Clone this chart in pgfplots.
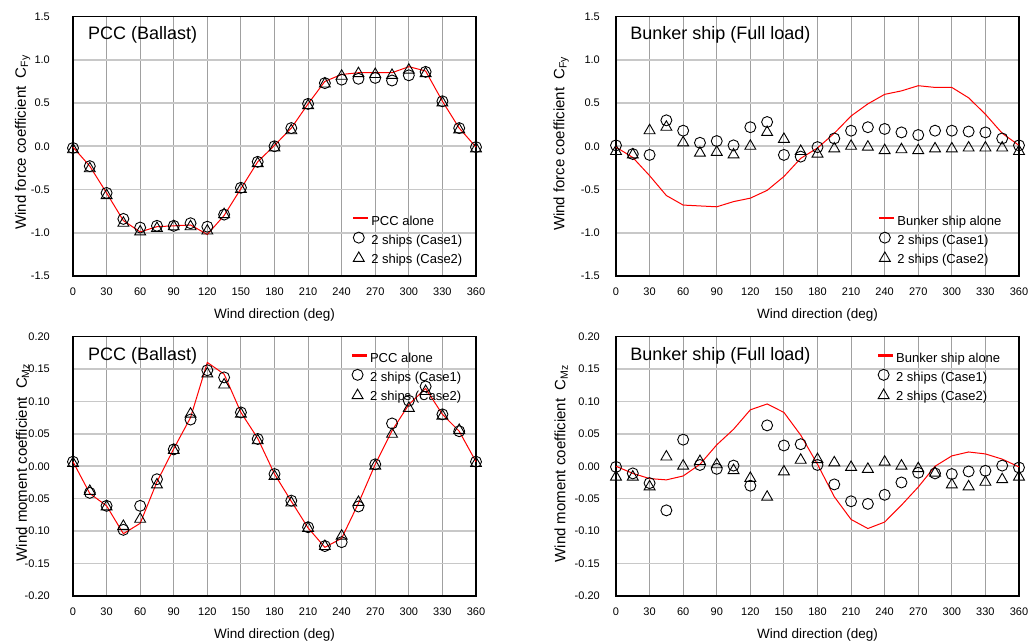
\documentclass[border=0pt]{standalone}
\usepackage{pgfplots}
\pgfplotsset{compat=1.18}
\usepackage{pgfplotstable}
\usepackage{fontspec}
\setmainfont{Liberation Sans}
\definecolor{gridV}{RGB}{160,160,160}
\definecolor{gridH}{RGB}{200,200,200}

\pgfplotstableread{
deg alone c1 c2
0 -0.01 -0.02 -0.02
15 -0.23 -0.23 -0.24
30 -0.54 -0.54 -0.55
45 -0.86 -0.84 -0.87
60 -0.99 -0.94 -0.97
75 -0.93 -0.92 -0.93
90 -0.92 -0.92 -0.91
105 -0.91 -0.89 -0.91
120 -1.02 -0.93 -0.96
135 -0.80 -0.79 -0.77
150 -0.49 -0.48 -0.48
165 -0.18 -0.18 -0.18
180 0.01 0.00 0.00
195 0.21 0.21 0.20
210 0.49 0.49 0.49
225 0.75 0.73 0.74
240 0.83 0.77 0.83
255 0.85 0.78 0.86
270 0.85 0.79 0.85
285 0.85 0.76 0.84
300 0.92 0.82 0.90
315 0.87 0.86 0.86
330 0.52 0.52 0.52
345 0.21 0.21 0.21
360 -0.01 -0.01 -0.01
}\tabA

\pgfplotstableread{
deg alone c1 c2
0 -0.01 0.01 -0.04
15 -0.13 -0.09 -0.08
30 -0.34 -0.10 0.20
45 -0.57 0.30 0.24
60 -0.68 0.18 0.06
75 -0.69 0.04 -0.06
90 -0.70 0.06 -0.05
105 -0.64 0.01 -0.08
120 -0.60 0.22 0.02
135 -0.51 0.28 0.18
150 -0.35 -0.10 0.10
165 -0.14 -0.12 -0.04
180 -0.02 -0.01 -0.07
195 0.15 0.09 -0.01
210 0.35 0.18 0.02
225 0.49 0.22 0.01
240 0.60 0.20 -0.03
255 0.64 0.16 -0.02
270 0.70 0.13 -0.03
285 0.68 0.18 -0.01
300 0.68 0.18 -0.01
315 0.56 0.17 0.00
330 0.37 0.16 0.00
345 0.15 0.09 0.00
360 0.01 0.01 -0.04
}\tabB

\pgfplotstableread{
deg alone c1 c2
0 0.007 0.007 0.007
15 -0.042 -0.041 -0.036
30 -0.061 -0.061 -0.060
45 -0.104 -0.098 -0.090
60 -0.088 -0.061 -0.079
75 -0.024 -0.020 -0.026
90 0.027 0.026 0.027
105 0.075 0.072 0.083
120 0.160 0.148 0.145
135 0.142 0.137 0.128
150 0.083 0.083 0.083
165 0.043 0.042 0.042
180 -0.012 -0.012 -0.013
195 -0.054 -0.053 -0.054
210 -0.095 -0.094 -0.093
225 -0.125 -0.123 -0.121
240 -0.111 -0.117 -0.105
255 -0.057 -0.062 -0.053
270 0.003 0.003 0.003
285 0.055 0.066 0.052
300 0.095 0.101 0.092
315 0.120 0.123 0.118
330 0.080 0.080 0.080
345 0.054 0.054 0.058
360 0.007 0.007 0.007
}\tabC

\pgfplotstableread{
deg alone c1 c2
0 0.000 -0.001 -0.014
15 -0.011 -0.011 -0.014
30 -0.019 -0.026 -0.029
45 -0.021 -0.068 0.017
60 -0.015 0.041 0.003
75 0.003 0.002 0.010
90 0.033 -0.004 0.005
105 0.057 0.001 -0.004
120 0.087 -0.030 -0.016
135 0.096 0.063 -0.045
150 0.083 0.032 -0.006
165 0.048 0.034 0.012
180 0.003 0.002 0.013
195 -0.047 -0.028 0.008
210 -0.082 -0.054 0.001
225 -0.096 -0.058 -0.002
240 -0.086 -0.044 0.009
255 -0.060 -0.025 0.003
270 -0.032 -0.010 -0.001
285 0.000 -0.011 -0.008
300 0.016 -0.012 -0.026
315 0.022 -0.008 -0.029
330 0.019 -0.007 -0.022
345 0.011 0.001 -0.018
360 -0.001 -0.002 -0.014
}\tabD

\pgfplotsset{
  chart/.style={
    scale only axis, width=403pt, height=259.5pt,
    anchor=south west, clip=false,
    xmin=0, xmax=360, xtick={0,30,...,360},
    /pgf/number format/assume math mode=true,
    axis line style={black, line width=1.2pt},
    major tick length=0pt, tick style={draw=none},
    grid=major,
    x grid style={gridV, line width=1pt},
    y grid style={gridH, line width=1.6pt},
    tick label style={font=\fontsize{11}{13}\selectfont, inner sep=0pt},
    xticklabel style={anchor=north, yshift=-12pt},
    xlabel={Wind direction (deg)},
    xlabel style={font=\fontsize{13.5}{16}\selectfont, at={(axis description cs:0.5,0)}, anchor=base, yshift=-42pt},
    ylabel style={font=\fontsize{15}{18}\selectfont, anchor=center},
    legend style={draw=none, fill=none, font=\fontsize{13}{15}\selectfont,
      anchor=north west, inner sep=0pt, row sep=3.5pt, column sep=4pt,
      nodes={inner sep=0pt, text height=10pt, text depth=3pt}},
    legend cell align=left,
  },
  forceaxis/.style={ymin=-1.5, ymax=1.5, ytick={-1.5,-1,-0.5,0,0.5,1,1.5},
    yticklabels={-1.5,-1.0,-0.5,0.0,0.5,1.0,1.5},
    ylabel={Wind force coefficient\ \ C\textsubscript{Fy}}},
  momentaxis/.style={ymin=-0.2, ymax=0.2, ytick={-0.2,-0.15,-0.1,-0.05,0,0.05,0.1,0.15,0.2},
    yticklabels={-0.20,-0.15,-0.10,-0.05,0.00,0.05,0.10,0.15,0.20},
    ylabel={Wind moment coefficient\ \ C\textsubscript{Mz}}},
  leftpanel/.style={yticklabel style={anchor=east, xshift=-23pt},
    ylabel style={at={(axis description cs:-0.125,0.515)}}},
  rightpanel/.style={yticklabel style={anchor=east, xshift=-16pt},
    ylabel style={at={(axis description cs:-0.136,0.51)}}},
  alone/.style={color=red, draw=red, line width=1pt, mark=none,
    legend image code/.code={\pgfpathrectangle{\pgfpointorigin}{\pgfpoint{14pt}{9pt}}\pgfusepath{use as bounding box}%
      \fill[red, overlay] (0pt,3.3pt) rectangle (14pt,4.9pt);}},
  caseA/.style={only marks, mark=o, mark size=5.5pt,
    mark options={black, line width=0.9pt, fill=none},
    legend image code/.code={\pgfpathrectangle{\pgfpointorigin}{\pgfpoint{14pt}{9pt}}\pgfusepath{use as bounding box}%
      \draw[##1, overlay] plot coordinates {(5.5pt,3.5pt)};}},
  caseB/.style={only marks, mark=triangle, mark size=6.3pt,
    mark options={black, line width=0.9pt, fill=none, yshift=-1.6pt},
    legend image code/.code={\pgfpathrectangle{\pgfpointorigin}{\pgfpoint{14pt}{9pt}}\pgfusepath{use as bounding box}%
      \draw[##1, overlay] plot coordinates {(5.5pt,3.5pt)};}},
}

\begin{document}
\begin{tikzpicture}
\useasboundingbox (0,0) rectangle (1029pt,641pt);

% Panel 1
\begin{axis}[chart, forceaxis, leftpanel, at={(73pt,365pt)},
  legend style={at={(rel axis cs:0.695,0.243)}}]
\addplot[alone] table[x=deg,y=alone] {\tabA};
\addlegendentry{PCC alone}
\addplot[caseA] table[x=deg,y=c1] {\tabA};
\addlegendentry{2 ships (Case1)}
\addplot[caseB] table[x=deg,y=c2] {\tabA};
\addlegendentry{2 ships (Case2)}
\node[anchor=base west, inner sep=0pt, font=\fontsize{18}{21}\selectfont] at (rel axis cs:0.037,0.91) {PCC (Ballast)};
\end{axis}

% Panel 2
\begin{axis}[chart, forceaxis, rightpanel, at={(616pt,365pt)},
  legend style={at={(rel axis cs:0.653,0.243)}}]
\addplot[alone] table[x=deg,y=alone] {\tabB};
\addlegendentry{Bunker ship alone}
\addplot[caseA] table[x=deg,y=c1] {\tabB};
\addlegendentry{2 ships (Case1)}
\addplot[caseB] table[x=deg,y=c2] {\tabB};
\addlegendentry{2 ships (Case2)}
\node[anchor=base west, inner sep=0pt, font=\fontsize{18}{21}\selectfont] at (rel axis cs:0.035,0.91) {Bunker ship (Full load)};
\end{axis}

% Panel 3
\begin{axis}[chart, momentaxis, leftpanel, at={(73pt,45pt)},
  legend style={at={(rel axis cs:0.692,0.9475)}}]
\addplot[alone] table[x=deg,y=alone] {\tabC};
\addlegendentry{PCC alone}
\addplot[caseA] table[x=deg,y=c1] {\tabC};
\addlegendentry{2 ships (Case1)}
\addplot[caseB] table[x=deg,y=c2] {\tabC};
\addlegendentry{2 ships (Case2)}
\node[anchor=base west, inner sep=0pt, font=\fontsize{18}{21}\selectfont] at (rel axis cs:0.037,0.908) {PCC (Ballast)};
\end{axis}

% Panel 4
\begin{axis}[chart, momentaxis, rightpanel, at={(616pt,45pt)},
  legend style={at={(rel axis cs:0.650,0.9475)}}]
\addplot[alone] table[x=deg,y=alone] {\tabD};
\addlegendentry{Bunker ship alone}
\addplot[caseA] table[x=deg,y=c1] {\tabD};
\addlegendentry{2 ships (Case1)}
\addplot[caseB] table[x=deg,y=c2] {\tabD};
\addlegendentry{2 ships (Case2)}
\node[anchor=base west, inner sep=0pt, font=\fontsize{18}{21}\selectfont] at (rel axis cs:0.035,0.908) {Bunker ship (Full load)};
\end{axis}
\end{tikzpicture}
\end{document}
